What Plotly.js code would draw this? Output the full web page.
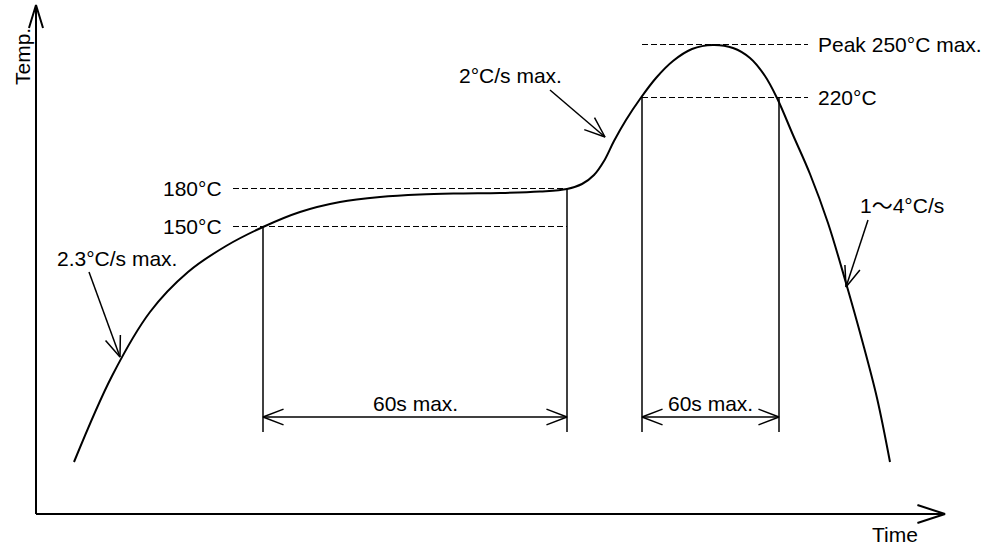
<!DOCTYPE html>
<html>
<head>
<meta charset="utf-8">
<script src="https://cdn.plot.ly/plotly-3.0.1.min.js"></script>
<style>html,body{margin:0;padding:0;background:#fff;}#chart{width:987px;height:547px;}</style>
</head>
<body>
<div id="chart"></div>
<script>
// Reflow profile (schematic units: time and temperature, origin at the axes corner)
const curveTime = [38, 76, 114, 152, 190, 227, 264, 304, 344, 384, 424, 464, 504, 531, 546, 558, 568, 578, 590, 604, 620, 637, 656, 677, 697, 714, 729, 741, 757, 774, 792, 810, 826, 841, 854];
const curveTemp = [52, 138, 202, 242, 268, 287, 302, 312, 317, 319.5, 320.5, 321, 322.5, 325, 330, 339, 353, 373, 394, 415, 436, 453, 465, 469, 466, 456, 438, 416, 379, 340, 291, 231, 174, 116, 52];

const levelNames = ['150°C', '180°C', '220°C', 'Peak 250°C max.'];
const levelTemps = [287.5, 325.5, 416.5, 469.5];

const windowLabels = ['60s max.', '60s max.'];
const windowStart = [227, 606];
const windowEnd = [531, 743];
const windowStartTemp = [287, 416];
const windowEndTemp = [325, 416];

const rateLabels = ['2.3°C/s max.', '2°C/s max.', '1～4°C/s'];
const rateTipTime = [84, 569, 810];
const rateTipTemp = [157, 377, 227];
const rateTailTime = [53, 514, 832];
const rateTailTemp = [242, 424, 294];

const axisLabels = ['Time', 'Temp.'];

const FONT = {family: 'Liberation Sans, Arial, "Noto Sans CJK JP", sans-serif', size: 21, color: '#000'};
const BLACK = '#000';

function head(tipX, tipY, fromX, fromY, len, angDeg) {
  const a = Math.atan2(fromY - tipY, fromX - tipX);
  const d = angDeg * Math.PI / 180;
  return {
    x: [tipX + len * Math.cos(a + d), tipX, tipX + len * Math.cos(a - d)],
    y: [tipY + len * Math.sin(a + d), tipY, tipY + len * Math.sin(a - d)]
  };
}

const traces = [];
const shapes = [];
const annotations = [];

// main profile curve
traces.push({x: curveTime, y: curveTemp, mode: 'lines', line: {color: BLACK, width: 2, shape: 'spline', smoothing: 1}, hoverinfo: 'skip'});

// axes
const yTop = 509, xRight = 909;
shapes.push({type: 'line', xref: 'x', yref: 'y', x0: 0, y0: 0, x1: 0, y1: yTop, line: {color: BLACK, width: 2}});
shapes.push({type: 'line', xref: 'x', yref: 'y', x0: 0, y0: 0, x1: xRight, y1: 0, line: {color: BLACK, width: 2}});
let h = head(0, yTop, 0, 0, 24, 17);
traces.push({x: h.x, y: h.y, mode: 'lines', line: {color: BLACK, width: 2}, hoverinfo: 'skip'});
h = head(xRight, 0, 0, 0, 29, 18);
traces.push({x: h.x, y: h.y, mode: 'lines', line: {color: BLACK, width: 2}, hoverinfo: 'skip'});
annotations.push({x: 859, y: -20, xref: 'x', yref: 'y', text: axisLabels[0], showarrow: false, font: FONT, xanchor: 'center', yanchor: 'middle'});
annotations.push({x: -14, y: 457, xref: 'x', yref: 'y', text: axisLabels[1], showarrow: false, font: FONT, textangle: -90, xanchor: 'center', yanchor: 'middle'});

// level dashed lines + labels
const dashStart = [197, 197, 606, 606];
const dashEnd = [531, 531, 772, 772];
levelTemps.forEach((v, i) => {
  shapes.push({type: 'line', xref: 'x', yref: 'y', x0: dashStart[i], y0: v, x1: dashEnd[i], y1: v, line: {color: BLACK, width: 1.2, dash: '6px,3px'}});
  const left = i < 2;
  annotations.push({x: left ? 188 : 780, y: v, xref: 'x', yref: 'y', text: levelNames[i], showarrow: false, font: FONT,
    xanchor: left ? 'right' : 'left', yanchor: 'middle'});
});

// time windows
const barBottom = 82, arrowLevel = 97;
windowLabels.forEach((lab, i) => {
  shapes.push({type: 'line', xref: 'x', yref: 'y', x0: windowStart[i], y0: windowStartTemp[i], x1: windowStart[i], y1: barBottom, line: {color: BLACK, width: 1.5}});
  shapes.push({type: 'line', xref: 'x', yref: 'y', x0: windowEnd[i], y0: windowEndTemp[i], x1: windowEnd[i], y1: barBottom, line: {color: BLACK, width: 1.5}});
  traces.push({x: [windowStart[i], windowEnd[i]], y: [arrowLevel, arrowLevel], mode: 'lines', line: {color: BLACK, width: 1.5}, hoverinfo: 'skip'});
  let a = head(windowStart[i], arrowLevel, windowEnd[i], arrowLevel, 22, 21);
  traces.push({x: a.x, y: a.y, mode: 'lines', line: {color: BLACK, width: 1.5}, hoverinfo: 'skip'});
  a = head(windowEnd[i], arrowLevel, windowStart[i], arrowLevel, 22, 21);
  traces.push({x: a.x, y: a.y, mode: 'lines', line: {color: BLACK, width: 1.5}, hoverinfo: 'skip'});
  annotations.push({x: (windowStart[i] + windowEnd[i]) / 2, y: 111, xref: 'x', yref: 'y', text: lab, showarrow: false, font: FONT, xanchor: 'center', yanchor: 'middle'});
});

// rate arrows
const rateLabelX = [19, 421, 822];
const rateLabelY = [256, 439, 309];
rateLabels.forEach((lab, i) => {
  traces.push({x: [rateTailTime[i], rateTipTime[i]], y: [rateTailTemp[i], rateTipTemp[i]], mode: 'lines', line: {color: BLACK, width: 1.5}, hoverinfo: 'skip'});
  const a = head(rateTipTime[i], rateTipTemp[i], rateTailTime[i], rateTailTemp[i], 22, 21);
  traces.push({x: a.x, y: a.y, mode: 'lines', line: {color: BLACK, width: 1.5}, hoverinfo: 'skip'});
  annotations.push({x: rateLabelX[i], y: rateLabelY[i], xref: 'x', yref: 'y', text: lab, showarrow: false, font: FONT, xanchor: 'left', yanchor: 'middle'});
});

const layout = {
  width: 987, height: 547,
  margin: {l: 0, r: 0, t: 0, b: 0, pad: 0},
  paper_bgcolor: '#fff', plot_bgcolor: '#fff',
  showlegend: false,
  xaxis: {range: [-36, 951], visible: false, fixedrange: true},
  yaxis: {range: [-33, 514], visible: false, fixedrange: true},
  shapes: shapes,
  annotations: annotations,
  font: FONT
};

Plotly.newPlot('chart', traces, layout, {displayModeBar: false, staticPlot: true});
</script>
</body>
</html>
